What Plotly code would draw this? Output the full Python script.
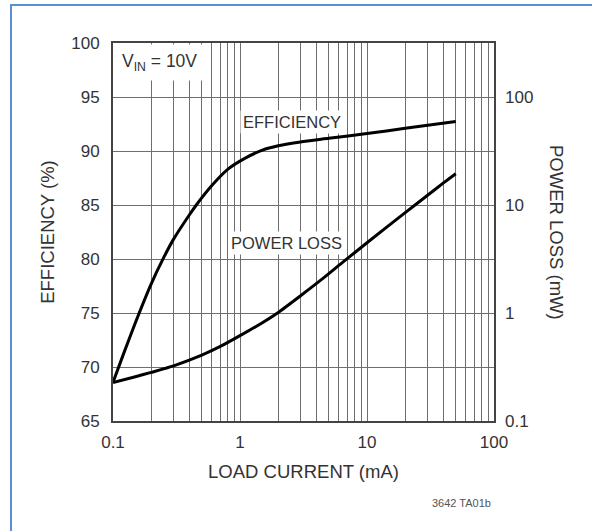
import plotly.graph_objects as go

# ---- data ----
eff_current = [0.1, 0.12, 0.15, 0.2, 0.25, 0.3, 0.4, 0.453, 0.6, 0.8, 1.1, 1.5, 2, 3, 5, 10, 20, 50]
efficiency = [68.57, 71.1, 74.1, 77.7, 80.1, 81.84, 84.1, 85.0, 86.8, 88.3, 89.34, 90.08, 90.48, 90.84, 91.17, 91.62, 92.1, 92.74]

loss_current = [0.1, 0.15, 0.2, 0.3, 0.5, 0.7, 1.0, 1.5, 2, 3, 4.5, 6.6, 10, 20, 30, 40, 50]
power_loss = [0.2275, 0.257, 0.282, 0.324, 0.407, 0.490, 0.617, 0.813, 1.012, 1.445, 2.089, 3.02, 4.47, 8.51, 12.3, 16.03, 19.5]

x_ticks = [0.1, 1, 10, 100]
x_labels = ["0.1", "1", "10", "100"]
y2_ticks = [0.1, 1, 10, 100]
y2_labels = ["0.1", "1", "10", "100"]

FONT = "Liberation Sans, Arial, sans-serif"
TXT = "#333333"
GRID = "#6e6e6e"

fig = go.Figure()
fig.add_trace(go.Scatter(x=eff_current, y=efficiency, mode="lines",
                         line=dict(color="black", width=3, shape="spline", smoothing=0.6),
                         showlegend=False, yaxis="y"))
fig.add_trace(go.Scatter(x=loss_current, y=power_loss, mode="lines",
                         line=dict(color="black", width=3, shape="spline", smoothing=0.6),
                         showlegend=False, yaxis="y2"))

fig.update_layout(
    width=592, height=531,
    margin=dict(l=113, r=98, t=43, b=110),
    paper_bgcolor="white", plot_bgcolor="white",
    font=dict(family=FONT, size=17, color=TXT),
    xaxis=dict(type="log", range=[-1, 2],
               tickvals=x_ticks, ticktext=x_labels,
               showgrid=True, gridcolor=GRID, gridwidth=1.3,
               minor=dict(dtick="D1", showgrid=True, gridcolor=GRID, gridwidth=1.3, ticks=""),
               showline=True, linecolor="#444444", linewidth=2, mirror=True,
               ticks="", ticklabelstandoff=5,
               title=dict(text="LOAD CURRENT (mA)", font=dict(size=18.5), standoff=14),
               zeroline=False),
    yaxis=dict(range=[65, 100], dtick=5, tick0=65,
               showgrid=True, gridcolor=GRID, gridwidth=1.3,
               showline=True, linecolor="#444444", linewidth=2, mirror=True,
               ticks="", ticklabelstandoff=8,
               title=dict(text="EFFICIENCY (%)", font=dict(size=18.5), standoff=12),
               zeroline=False),
    yaxis2=dict(type="log", range=[-1, 2.5], overlaying="y", side="right",
                tickvals=y2_ticks, ticktext=y2_labels, showgrid=False,
                showline=False, ticks="", ticklabelstandoff=10, zeroline=False),
    annotations=[
        dict(text="V<sub>IN</sub> = 10V", xref="paper", yref="paper",
             x=0.005, y=0.997, xanchor="left", yanchor="top", showarrow=False,
             bgcolor="white", borderpad=6, font=dict(size=17.5)),
        dict(text="EFFICIENCY", xref="paper", yref="paper",
             x=(292 - 113) / 381, y=1 - (122 - 43) / 378, xanchor="center", yanchor="middle",
             showarrow=False, bgcolor="white", borderpad=2, font=dict(size=16.5)),
        dict(text="POWER LOSS", xref="paper", yref="paper",
             x=(286 - 113) / 381, y=1 - (243 - 43) / 378, xanchor="center", yanchor="middle",
             showarrow=False, bgcolor="white", borderpad=2, font=dict(size=16.5)),
        dict(text="POWER LOSS (mW)", xref="paper", yref="paper",
             x=(557 - 113) / 381, y=0.5, xanchor="center", yanchor="middle",
             textangle=90, showarrow=False, font=dict(size=18.5)),
        dict(text="3642 TA01b", xref="paper", yref="paper",
             x=(493 - 113) / 381, y=1 - (503 - 43) / 378, xanchor="right", yanchor="middle",
             showarrow=False, font=dict(size=11, color="#555555")),
    ],
    shapes=[
        dict(type="rect", xref="paper", yref="paper",
             x0=(11 - 113) / 381, x1=(700 - 113) / 381,
             y0=1 - (700 - 43) / 378, y1=1 + (43 - 5) / 378,
             line=dict(color="#5b8fd3", width=2), fillcolor="rgba(0,0,0,0)"),
    ],
)

fig.write_html("out.html")
